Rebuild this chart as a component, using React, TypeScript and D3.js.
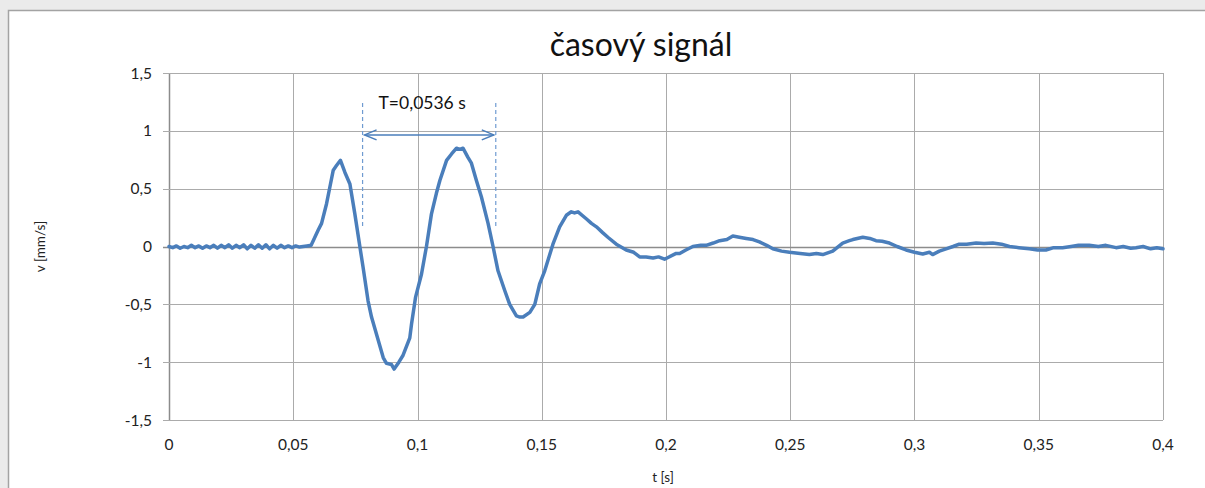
import React, { useRef, useEffect } from 'react';
import * as d3 from 'd3';

// t [s]
const time = [
  0, 0.0015, 0.003, 0.0045, 0.006, 0.0075, 0.009, 0.0105, 0.012, 0.0135,
  0.015, 0.0165, 0.018, 0.0195, 0.021, 0.0225, 0.024, 0.0255, 0.027, 0.0285,
  0.03, 0.0315, 0.033, 0.0345, 0.036, 0.0375, 0.039, 0.0405, 0.042, 0.0435,
  0.045, 0.0465, 0.048, 0.0495, 0.051, 0.0525, 0.054, 0.0555, 0.0572,
  0.06, 0.0614, 0.0634, 0.0647, 0.0661, 0.0674, 0.069, 0.0708, 0.0728, 0.0748,
  0.0768, 0.0781, 0.0801, 0.0815, 0.0842, 0.0862, 0.0875, 0.0895, 0.0906, 0.0925,
  0.0942, 0.0969, 0.0976, 0.0992, 0.1016, 0.1036, 0.1056, 0.1076, 0.109, 0.1117,
  0.1137, 0.1157, 0.117, 0.1183, 0.1203, 0.1217, 0.1237, 0.1257, 0.1284, 0.1304,
  0.1324, 0.1351, 0.1371, 0.1398, 0.1412, 0.1425, 0.1452, 0.1472, 0.1492, 0.1512,
  0.1545, 0.1572, 0.1599, 0.1619, 0.1632, 0.1646, 0.1679, 0.17, 0.172, 0.1745,
  0.1766, 0.18, 0.184, 0.187, 0.1894, 0.192, 0.1948, 0.197, 0.1994, 0.2041,
  0.2055, 0.208, 0.2108, 0.214, 0.2162, 0.219, 0.2216, 0.2245, 0.2269, 0.2295,
  0.2323, 0.235, 0.2376, 0.2405, 0.243, 0.2465, 0.2497, 0.254, 0.2577, 0.2605,
  0.2631, 0.2671, 0.2711, 0.2738, 0.2752, 0.2792, 0.282, 0.2845, 0.287, 0.2899,
  0.293, 0.2966, 0.3, 0.3033, 0.306, 0.3073, 0.31, 0.3127, 0.3155, 0.318,
  0.321, 0.3248, 0.328, 0.3315, 0.335, 0.3382, 0.342, 0.3462, 0.3495, 0.3529,
  0.356, 0.3596, 0.363, 0.366, 0.3703, 0.374, 0.377, 0.3811, 0.384, 0.387,
  0.3891, 0.392, 0.395, 0.3975, 0.4,
];

// v [mm/s]
const velocity = [
  0, -0.01, 0.005, -0.015, 0, -0.01, 0.01, -0.01, 0.005, -0.015,
  0.005, -0.01, 0.01, -0.015, 0.01, -0.01, 0.015, -0.015, 0.01, -0.01,
  0.015, -0.02, 0.01, -0.015, 0.015, -0.015, 0.015, -0.02, 0.01, -0.015,
  0.01, -0.01, 0.005, -0.01, 0.005, -0.005, 0, 0.005, 0.01,
  0.14, 0.2, 0.37, 0.51, 0.66, 0.7, 0.745, 0.64, 0.54, 0.28,
  0, -0.18, -0.47, -0.61, -0.81, -0.96, -1.01, -1.02, -1.06, -1.0,
  -0.94, -0.79, -0.67, -0.44, -0.24, 0, 0.28, 0.46, 0.57, 0.745,
  0.8, 0.85, 0.84, 0.85, 0.77, 0.72, 0.57, 0.43, 0.2, 0,
  -0.21, -0.38, -0.5, -0.6, -0.61, -0.61, -0.57, -0.5, -0.32, -0.21,
  0.02, 0.17, 0.27, 0.3, 0.29, 0.3, 0.24, 0.2, 0.17, 0.12,
  0.08, 0.02, -0.03, -0.05, -0.09, -0.09, -0.1, -0.09, -0.11, -0.06,
  -0.06, -0.03, 0, 0.01, 0.01, 0.03, 0.05, 0.06, 0.09, 0.08,
  0.07, 0.06, 0.04, 0.01, -0.02, -0.04, -0.05, -0.06, -0.07, -0.06,
  -0.07, -0.04, 0.03, 0.05, 0.06, 0.08, 0.07, 0.05, 0.045, 0.03,
  0, -0.03, -0.05, -0.065, -0.05, -0.07, -0.04, -0.02, 0, 0.02,
  0.02, 0.03, 0.025, 0.03, 0.02, 0, -0.01, -0.02, -0.03, -0.03,
  -0.01, -0.01, 0, 0.01, 0.01, 0, 0.01, -0.01, 0, -0.015,
  -0.01, 0, -0.02, -0.01, -0.02,
];

const xTicks = [0, 0.05, 0.1, 0.15, 0.2, 0.25, 0.3, 0.35, 0.4];
const yTicks = [-1.5, -1, -0.5, 0, 0.5, 1, 1.5];

// period annotation
const periodStart = 0.0779;
const period = 0.0536;

const fmt = (n: number) => String(n).replace('.', ',');

function App() {
  const svgRef = useRef<SVGSVGElement>(null);

  const width = 1205;
  const height = 488;
  const margin = { top: 73, right: 42, bottom: 68, left: 169 };

  useEffect(() => {
    const svg = d3.select(svgRef.current);
    svg.selectAll('*').remove();

    const font = 'Lato, "Open Sans", sans-serif';

    svg.append('rect').attr('width', width).attr('height', height).attr('fill', '#ebebeb');
    svg.append('rect')
      .attr('x', 8.5).attr('y', 10.5)
      .attr('width', 1300).attr('height', 600)
      .attr('fill', '#fff')
      .attr('stroke', '#a3a3a3')
      .attr('stroke-width', 1.5);

    const x = d3.scaleLinear().domain([0, 0.4]).range([margin.left, width - margin.right]);
    const y = d3.scaleLinear().domain([-1.5, 1.5]).range([height - margin.bottom, margin.top]);

    const g = svg.append('g');

    // grid
    g.selectAll('.vgrid').data(xTicks).enter().append('line')
      .attr('x1', d => Math.round(x(d)) + 0.5).attr('x2', d => Math.round(x(d)) + 0.5)
      .attr('y1', y(1.5)).attr('y2', y(-1.5))
      .attr('stroke', d => (d === 0 ? '#8c8c8c' : '#ababab'))
      .attr('stroke-width', d => (d === 0 ? 1.5 : 1));
    g.selectAll('.hgrid').data(yTicks).enter().append('line')
      .attr('x1', x(0) - 6).attr('x2', x(0.4))
      .attr('y1', d => Math.round(y(d)) + 0.5).attr('y2', d => Math.round(y(d)) + 0.5)
      .attr('stroke', d => (d === 0 ? '#8c8c8c' : '#ababab'))
      .attr('stroke-width', d => (d === 0 ? 1.5 : 1));

    // tick labels
    g.selectAll('.ylab').data(yTicks).enter().append('text')
      .attr('x', x(0) - 17).attr('y', d => y(d) + 5.5)
      .attr('text-anchor', 'end')
      .attr('font-family', font).attr('font-size', 15.5).attr('fill', '#222')
      .text(fmt);
    g.selectAll('.xlab').data(xTicks).enter().append('text')
      .attr('x', d => x(d)).attr('y', y(-1.5) + 30)
      .attr('text-anchor', 'middle')
      .attr('font-family', font).attr('font-size', 15.5).attr('fill', '#222')
      .text(fmt);

    // axis titles
    svg.append('text')
      .attr('x', (x(0) + x(0.4)) / 2 - 3).attr('y', 482)
      .attr('text-anchor', 'middle')
      .attr('font-family', font).attr('font-size', 13.5).attr('fill', '#222')
      .text('t [s]');
    svg.append('text')
      .attr('transform', `translate(45,${y(0)}) rotate(-90)`)
      .attr('text-anchor', 'middle')
      .attr('font-family', font).attr('font-size', 13.5).attr('fill', '#222')
      .text('v [mm/s]');

    // title
    svg.append('text')
      .attr('x', 641).attr('y', 56)
      .attr('text-anchor', 'middle')
      .attr('font-family', font).attr('font-size', 32).attr('fill', '#111')
      .text('časový signál');

    // signal
    const pts = time.map((t, i) => [t, velocity[i]] as [number, number]);
    const line = d3.line<[number, number]>().x(d => x(d[0])).y(d => y(d[1]));
    g.append('path')
      .attr('d', line(pts))
      .attr('fill', 'none')
      .attr('stroke', '#4a7ebb')
      .attr('stroke-width', 3.5)
      .attr('stroke-linejoin', 'round')
      .attr('stroke-linecap', 'round');

    // period annotation
    const ann = svg.append('g');
    const x1 = x(periodStart);
    const x2 = x(periodStart + period);
    [x1, x2].forEach(xx => {
      ann.append('line')
        .attr('x1', xx).attr('x2', xx)
        .attr('y1', y(1.24)).attr('y2', y(0.165))
        .attr('stroke', '#6f9bd1').attr('stroke-width', 1.2)
        .attr('stroke-dasharray', '4,3');
    });
    const ay = y(0.965);
    ann.append('line')
      .attr('x1', x1 + 2).attr('x2', x2 - 2).attr('y1', ay).attr('y2', ay)
      .attr('stroke', '#4a7ebb').attr('stroke-width', 1.5);
    ann.append('path')
      .attr('d', `M${x1 + 14},${ay - 5} L${x1 + 2},${ay} L${x1 + 14},${ay + 5}`)
      .attr('fill', 'none').attr('stroke', '#4a7ebb').attr('stroke-width', 1.5);
    ann.append('path')
      .attr('d', `M${x2 - 14},${ay - 5} L${x2 - 2},${ay} L${x2 - 14},${ay + 5}`)
      .attr('fill', 'none').attr('stroke', '#4a7ebb').attr('stroke-width', 1.5);
    ann.append('text')
      .attr('x', (x1 + x2) / 2 - 7).attr('y', y(1.19))
      .attr('text-anchor', 'middle')
      .attr('font-family', font).attr('font-size', 17.5).attr('fill', '#111')
      .text(`T=${fmt(period)} s`);
  });

  return (
    <svg
      ref={svgRef}
      width={width}
      height={height}
      style={{ position: 'absolute', left: 0, top: 0, display: 'block' }}
    />
  );
}

export default App;
